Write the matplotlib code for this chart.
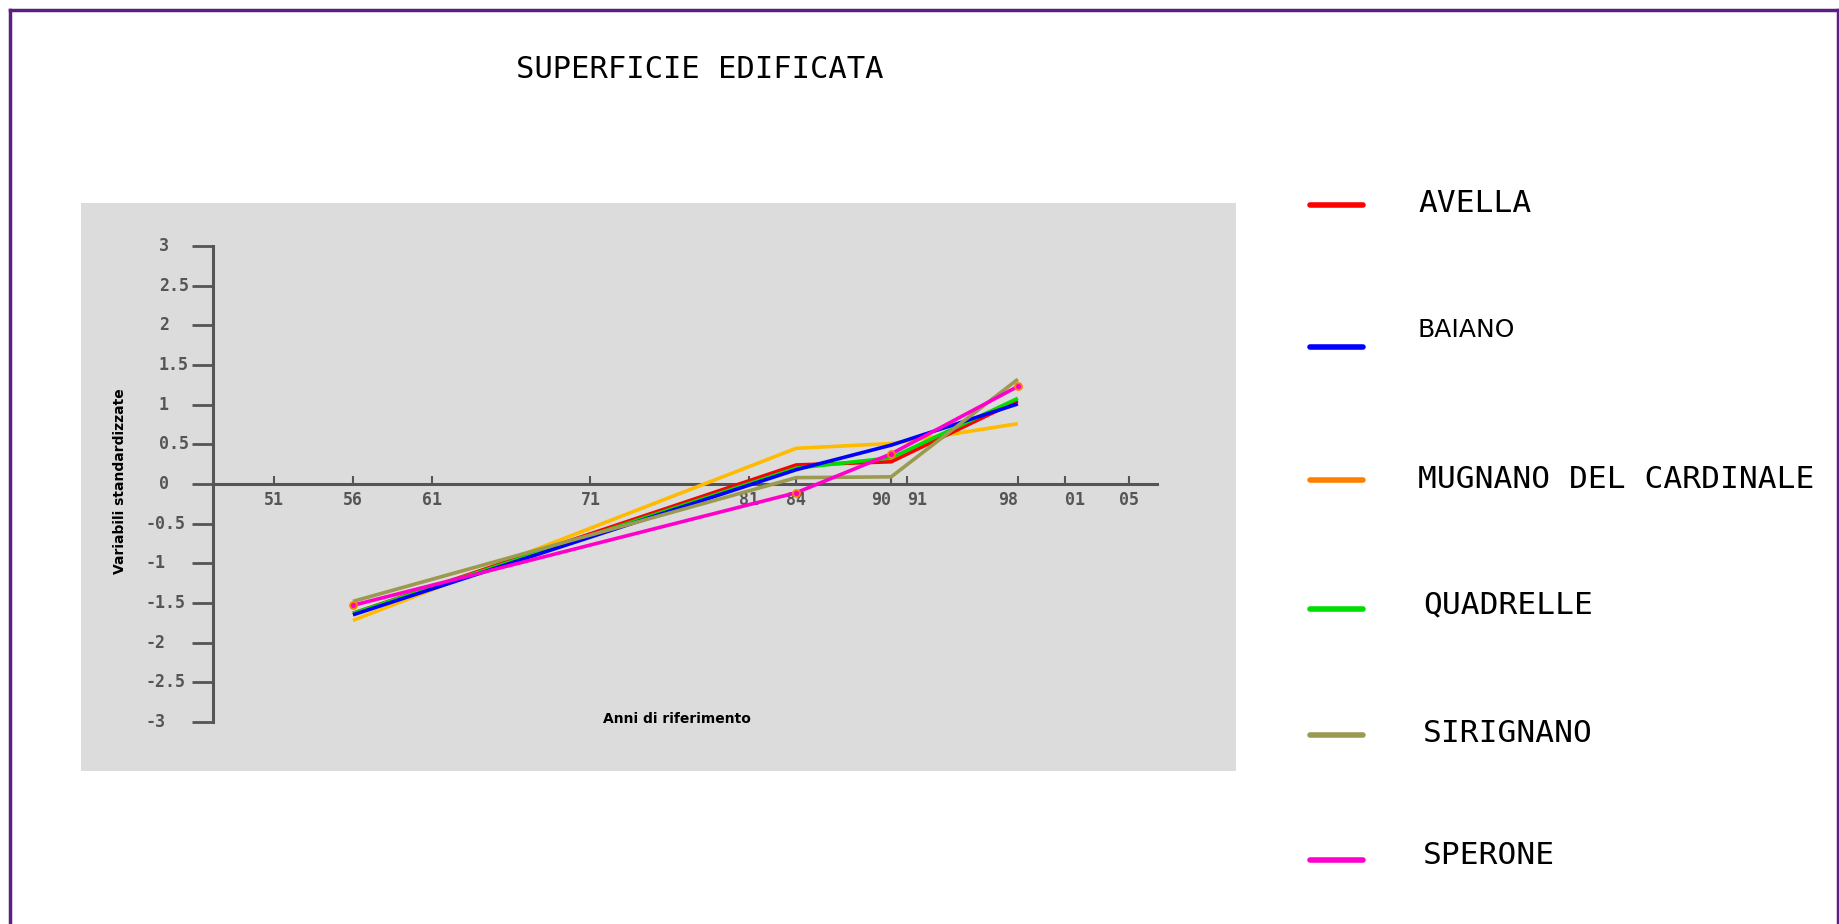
import matplotlib
matplotlib.use("Agg")
import matplotlib.pyplot as plt
from matplotlib.lines import Line2D

# dati (variabili standardizzate)
anni = [56, 84, 90, 98]
serie = {
    "AVELLA": [-1.63, 0.24, 0.28, 1.05],
    "BAIANO": [-1.65, 0.18, 0.49, 1.01],
    "MUGNANO DEL CARDINALE": [-1.72, 0.45, 0.51, 0.76],
    "QUADRELLE": [-1.63, 0.20, 0.33, 1.08],
    "SIRIGNANO": [-1.48, 0.08, 0.09, 1.32],
    "SPERONE": [-1.53, -0.11, 0.38, 1.23],
}
colori_linea = {
    "AVELLA": "#ff0000",
    "BAIANO": "#0000ff",
    "MUGNANO DEL CARDINALE": "#ffbb00",
    "QUADRELLE": "#00dd00",
    "SIRIGNANO": "#9a9a50",
    "SPERONE": "#ff00cc",
}
colori_legenda = dict(colori_linea)
colori_legenda["MUGNANO DEL CARDINALE"] = "#ff8000"
ordine_disegno = ["MUGNANO DEL CARDINALE", "AVELLA", "QUADRELLE", "BAIANO", "SIRIGNANO", "SPERONE"]

anni_tick = [51, 56, 61, 71, 81, 84, 90, 91, 98, 101, 105]
etichette_anni = ["51", "56", "61", "71", "81", "84", "90", "91", "98", "01", "05"]
valori_y = [3, 2.5, 2, 1.5, 1, 0.5, 0, -0.5, -1, -1.5, -2, -2.5, -3]
etichette_y = ["3", "2.5", "2", "1.5", "1", "0.5", "0", "-0.5", "-1", "-1.5", "-2", "-2.5", "-3"]

W, H = 1840, 924


def fx(px):
    return px / W


def fy(py):
    return 1 - py / H


fig = plt.figure(figsize=(W / 100, H / 100), dpi=100)
fig.patch.set_facecolor("white")

# cornice viola
bordo = "#5c1e80"
fig.add_artist(Line2D([fx(10), fx(10)], [fy(10), fy(924)], color=bordo, lw=2.5))
fig.add_artist(Line2D([fx(10), fx(1838)], [fy(10), fy(10)], color=bordo, lw=2.5))
fig.add_artist(Line2D([fx(1838), fx(1838)], [fy(10), fy(924)], color=bordo, lw=2.5))

# titolo
fig.text(fx(700), fy(70), "SUPERFICIE EDIFICATA", family="DejaVu Sans Mono",
         fontsize=22, ha="center", va="center", color="black")

# area grafico
ax = fig.add_axes([fx(81), fy(771), (1236 - 81) / W, (771 - 203) / H])
ax.set_facecolor("#dcdcdc")
ax.set_xlim(38.82, 111.78)
ax.set_ylim(-3.619, 3.543)

grigio = "#555555"
for s in ["top", "right"]:
    ax.spines[s].set_visible(False)
ax.spines["left"].set_position(("data", 47.16))
ax.spines["left"].set_bounds(-3, 3)
ax.spines["bottom"].set_position(("data", 0))
ax.spines["bottom"].set_bounds(47.16, 106.8)
for s in ["left", "bottom"]:
    ax.spines[s].set_color(grigio)
    ax.spines[s].set_linewidth(2.2)
    ax.spines[s].set_zorder(1)

ax.set_yticks(valori_y)
ax.set_yticklabels([])
ax.tick_params(axis="y", direction="out", length=15, width=2, color=grigio)
ax.set_xticks(anni_tick)
ax.set_xticklabels(etichette_anni, family="DejaVu Sans Mono", fontsize=12,
                   fontweight="bold", color=grigio)
ax.tick_params(axis="x", direction="in", length=6, width=1.5, color=grigio, pad=5)
for lab in ax.get_xticklabels():
    if lab.get_text() in ("90", "98"):
        lab.set_ha("right")
    elif lab.get_text() in ("91", "01"):
        lab.set_ha("left")

# etichette asse y allineate a sinistra
tr = ax.get_yaxis_transform()
for v, t in zip(valori_y, etichette_y):
    xpos = (159 - 81) / 1155 if v >= 0 else (146 - 81) / 1155
    ax.text(xpos, v, t, transform=tr, ha="left", va="center",
            family="DejaVu Sans Mono", fontsize=12, fontweight="bold", color=grigio)

# linee
for nome in ordine_disegno:
    ax.plot(anni, serie[nome], color=colori_linea[nome], lw=2.6, zorder=3,
            solid_capstyle="butt")
ax.plot(anni, serie["SPERONE"], linestyle="none", marker="o", markersize=5,
        markerfacecolor="#ff00cc", markeredgecolor="#ff8000", markeredgewidth=1.3, zorder=4)

# titoli assi
fig.text(fx(677), fy(719), "Anni di riferimento", fontsize=10, fontweight="bold",
         ha="center", va="center", color="black")
fig.text(fx(120), fy(481), "Variabili standardizzate", fontsize=10, fontweight="bold",
         rotation=90, ha="center", va="center", color="black")

# legenda
y_linee = [205, 347, 480, 609, 735, 860]
y_testi = [203, 330, 480, 605, 733, 855]
x_testi = [1418, 1418, 1418, 1423, 1423, 1423]
for nome, yl, yt, xt in zip(serie.keys(), y_linee, y_testi, x_testi):
    fig.add_artist(Line2D([fx(1310), fx(1363)], [fy(yl), fy(yl)],
                          color=colori_legenda[nome], lw=4, solid_capstyle="round"))
    if nome == "BAIANO":
        fig.text(fx(xt), fy(yt), nome, family="DejaVu Sans", fontsize=18,
                 ha="left", va="center", color="black")
    else:
        fig.text(fx(xt), fy(yt), nome, family="DejaVu Sans Mono", fontsize=22.5,
                 ha="left", va="center", color="black")

fig.savefig("out.png", dpi=100)
